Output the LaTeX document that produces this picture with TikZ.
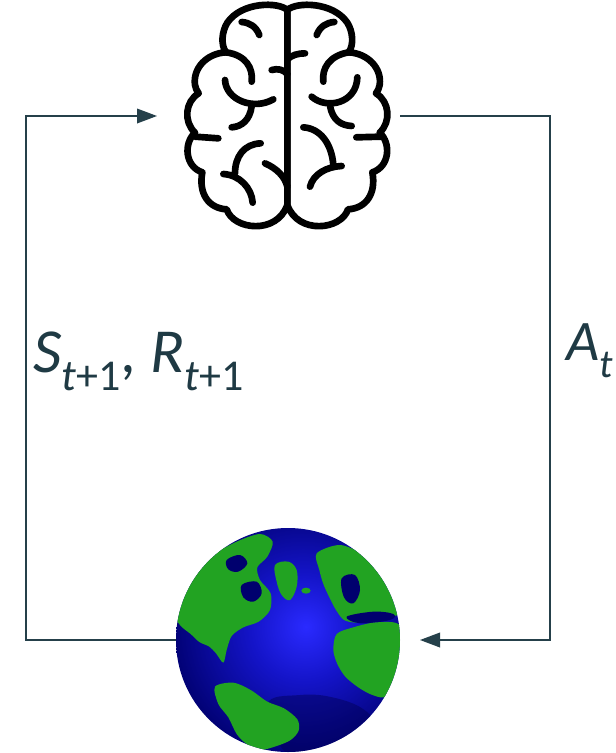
\documentclass[tikz,border=0pt]{standalone}
\usepackage{fontspec}
\setmainfont{Carlito}
\usetikzlibrary{arrows.meta,fadings}

\definecolor{wire}{HTML}{25404A}
\definecolor{ink}{HTML}{1F3A44}
\definecolor{seadeep}{HTML}{00006E}
\definecolor{seamid}{HTML}{1414C8}
\definecolor{seabright}{HTML}{2A2AFF}
\definecolor{abyss}{HTML}{000052}
\definecolor{land}{HTML}{22A322}

% ocean of the globe: bright centre, deep navy towards the limb
\pgfdeclareradialshading{ocean}{\pgfpoint{4bp}{3bp}}{%
  color(0bp)=(seabright); color(12bp)=(seamid); color(30bp)=(seadeep); color(100bp)=(seadeep)}
% darkening of the limb (clear in the middle, dark at the rim)
\pgfdeclareradialshading{rimgrad}{\pgfpointorigin}{%
  color(0bp)=(pgftransparent!100); color(38bp)=(pgftransparent!100);
  color(50bp)=(pgftransparent!0); color(100bp)=(pgftransparent!0)}
\pgfdeclarefading{rimshade}{\pgfuseshading{rimgrad}}

% lowered index in the labels
\newcommand\lowidx[2][33]{\raisebox{-0.3em}{\fontsize{#1}{#1}\selectfont #2}}

\begin{document}
\begin{tikzpicture}[x=0.75pt,y=-0.75pt,
  flow/.style={draw=wire, line width=1.1pt, -{Triangle[length=15pt,width=11pt]}},
  fold/.style={draw=black, line width=5pt, line cap=round, line join=round},
  lbl/.style={text=ink, font=\fontsize{47}{47}\selectfont, inner sep=0pt, anchor=base west},
  anchorbox/.style={inner sep=0pt, outer sep=0pt, draw=none}]
\fill[white] (0,0) rectangle (615,753);
\useasboundingbox (0,0) rectangle (615,753);

% ---------- brain ----------
\begin{scope}[xshift=127.5pt, x=0.25pt, y=-0.25pt]
  % left hemisphere outline
  \draw[fold] (352,30) .. controls (325,5) and (215,5) .. (172,68)
    .. controls (155,95) and (152,135) .. (168,157)
    .. controls (110,160) and (68,205) .. (75,255)
    .. controls (77,265) and (80,272) .. (86,280)
    .. controls (45,305) and (40,365) .. (75,398)
    .. controls (40,430) and (45,500) .. (97,517)
    .. controls (85,580) and (115,625) .. (170,628)
    .. controls (190,690) and (320,705) .. (352,615) -- cycle;
  % right hemisphere outline, mirrored about the midline
  \begin{scope}[xshift=176pt, xscale=-1]
    \draw[fold] (352,30) .. controls (325,5) and (215,5) .. (172,68)
      .. controls (155,95) and (152,135) .. (168,157)
      .. controls (110,160) and (68,205) .. (75,255)
      .. controls (77,265) and (80,272) .. (86,280)
      .. controls (45,305) and (40,365) .. (75,398)
      .. controls (40,430) and (45,500) .. (97,517)
      .. controls (85,580) and (115,625) .. (170,628)
      .. controls (190,690) and (320,705) .. (352,615) -- cycle;
  \end{scope}
  % left folds
  \draw[fold] (268,105) .. controls (258,80) and (240,68) .. (215,66);
  \draw[fold] (352,222) .. controls (340,208) and (322,205) .. (305,210);
  \draw[fold] (168,157) .. controls (228,165) and (250,205) .. (245,245);
  \draw[fold] (165,240) .. controls (168,300) and (250,332) .. (310,298);
  \draw[fold] (245,318) .. controls (240,360) and (215,380) .. (185,382);
  \draw[fold] (75,410) -- (145,415);
  \draw[fold] (272,430) .. controls (222,432) and (195,470) .. (195,520);
  \draw[fold] (160,522) .. controls (210,525) and (245,565) .. (248,608);
  \draw[fold] (285,490) .. controls (320,505) and (345,530) .. (352,560);
  % right folds
  \draw[fold] (440,105) .. controls (450,80) and (468,68) .. (493,66);
  \draw[fold] (352,178) .. controls (365,165) and (385,160) .. (405,160);
  \draw[fold] (536,157) .. controls (478,167) and (455,205) .. (460,245);
  \draw[fold] (425,290) .. controls (470,330) and (560,310) .. (562,232);
  \draw[fold] (480,318) .. controls (488,360) and (512,376) .. (545,378);
  \draw[fold] (559,412) -- (633,410);
  \draw[fold] (400,382) .. controls (450,385) and (485,430) .. (490,495);
  \draw[fold] (420,560) .. controls (430,522) and (470,500) .. (515,498);
\end{scope}

% ---------- globe ----------
\begin{scope}[xshift=120pt, yshift=-382.5pt, x=0.25pt, y=-0.25pt]
  \begin{scope}
    \clip (384,390) circle[radius=336];
    \shade[shading=ocean] (384,390) circle[radius=336];
    % deep southern water
    \fill[abyss, opacity=0.45] plot[smooth cycle, tension=0.7] coordinates {
      (320,585) (420,555) (530,565) (620,605) (650,665) (600,725) (450,745) (370,720)};
    % North America
    \fill[land] plot[smooth cycle, tension=0.5] coordinates {
      (40,300) (80,200) (150,140) (230,95) (300,72) (338,95) (322,140) (292,172)
      (300,210) (332,250) (330,300) (296,335) (250,352) (215,378) (200,420)
      (190,458) (168,430) (148,410) (118,396) (92,372) (60,345)};
    \fill[seadeep] plot[smooth cycle, tension=0.6] coordinates {
      (245,225) (290,215) (305,250) (280,275) (250,262)};
    \fill[seadeep] plot[smooth cycle, tension=0.6] coordinates {
      (200,150) (240,135) (262,160) (235,185) (205,178)};
    % Greenland and Iceland
    \fill[land] plot[smooth cycle, tension=0.6] coordinates {
      (345,165) (385,155) (410,180) (410,230) (390,270) (365,255) (350,215)};
    \fill[land] (438,242) ellipse[x radius=14, y radius=9];
    % Europe and Asia
    \fill[land] plot[smooth cycle, tension=0.5] coordinates {
      (470,130) (540,105) (612,135) (672,188) (712,250) (725,305) (690,322)
      (640,332) (590,338) (552,330) (528,300) (508,262) (490,222) (478,180)};
    \fill[seadeep] plot[smooth cycle, tension=0.6] coordinates {
      (545,205) (585,195) (600,240) (580,280) (552,262)};
    \fill[seadeep] plot[smooth cycle, tension=0.6] coordinates {
      (560,320) (640,305) (700,312) (690,330) (600,340)};
    % Africa
    \fill[land] plot[smooth cycle, tension=0.5] coordinates {
      (530,372) (580,352) (640,338) (705,338) (730,365) (728,470) (705,530)
      (672,562) (630,552) (592,530) (556,500) (532,462) (520,420)};
    % South America
    \fill[land] plot[smooth cycle, tension=0.5] coordinates {
      (165,530) (220,518) (272,540) (322,575) (372,595) (412,628) (416,662)
      (392,690) (350,708) (300,720) (260,702) (230,672) (205,622) (175,582)};
    % limb darkening
    \fill[black, path fading=rimshade, fill opacity=0.5] (384,390) circle[radius=336];
  \end{scope}
\end{scope}

% ---------- anchors, loop and labels ----------
\node[anchorbox, minimum width=182.25pt, minimum height=170pt] (brain) at (278.5,116) {};
\node[anchorbox, minimum width=183pt, minimum height=168pt] (globe) at (298,640) {};
\coordinate (loopL) at (26,378);
\coordinate (loopR) at (550,378);

\draw[flow] (globe.west) -| (loopL) |- (brain.west);
\draw[flow] (brain.east) -| (loopR) |- (globe.east);

\node[lbl] (sr) at (33,372) {\textit{S}\lowidx{\textit{t}+1}, \textit{R}\lowidx{\textit{t}+1}};
\node[lbl, font=\fontsize{43}{43}\selectfont] (act) at (566,360) {\textit{A}\lowidx[30]{\textit{t}}};
\end{tikzpicture}
\end{document}
